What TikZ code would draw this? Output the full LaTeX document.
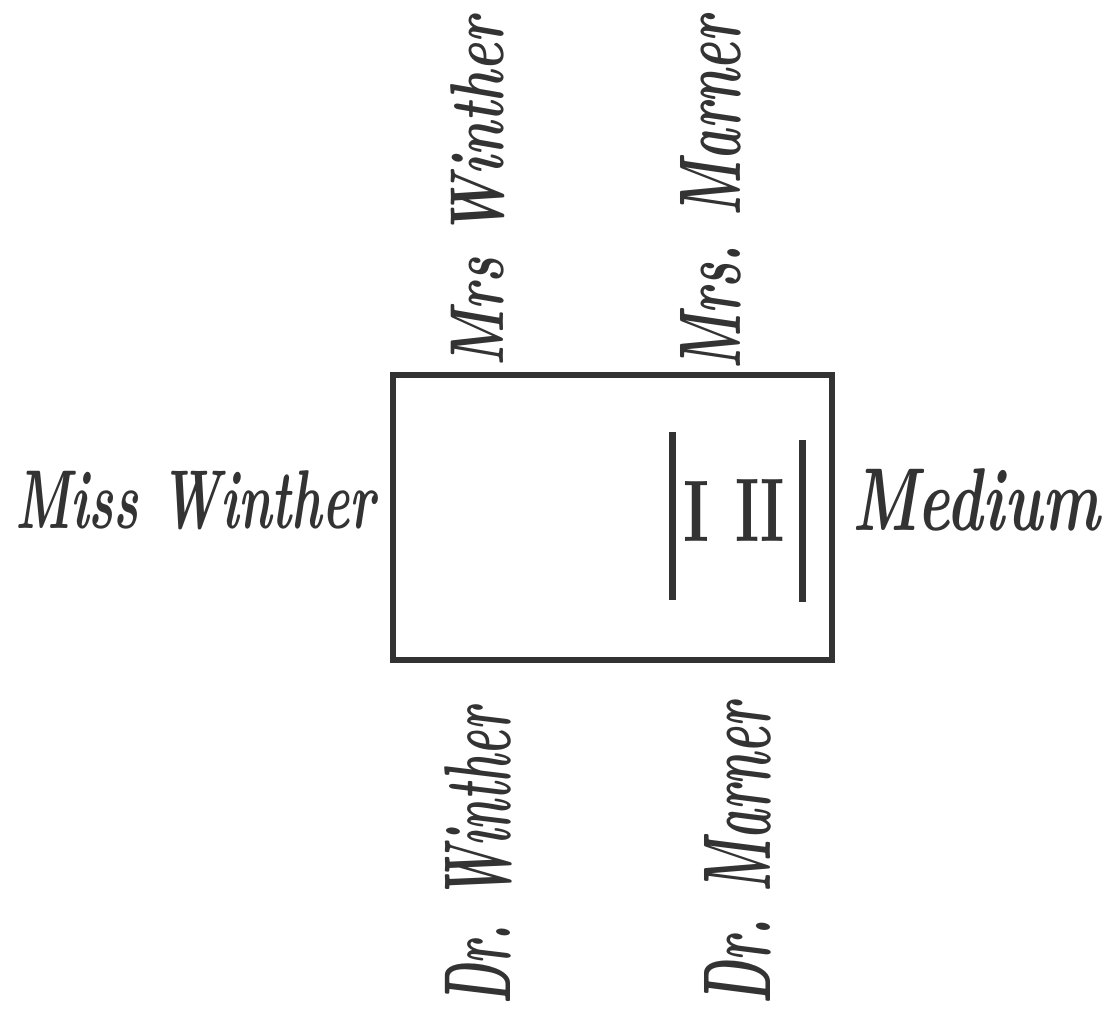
\documentclass[tikz,border=0pt]{standalone}
\newdimen\pxu \pxu=0.3mm
\definecolor{ink}{HTML}{333333}
\begin{document}
\begin{tikzpicture}[x=0.3mm,y=-0.3mm,
  lab/.style={inner sep=0pt, text=ink, font=\bfseries\itshape},
  bar/.style={draw=ink, line width=7\pxu}]
\useasboundingbox[fill=white] (0,0) rectangle (1105,1012);
% room
\node[draw=ink, line width=6\pxu, minimum width=439\pxu, minimum height=285\pxu, inner sep=0pt] (room) at (612.5,517.5) {};
% plates
\coordinate (b1t) at (672,432); \coordinate (b1b) at (672,600);
\coordinate (b2t) at (802,440); \coordinate (b2b) at (802,602);
\draw[bar] (b1t) -- (b1b);
\draw[bar] (b2t) -- (b2b);
\node[lab, font=\rmfamily\bfseries, anchor=base] (one) at (696,541) {\resizebox{26\pxu}{60\pxu}{I}};
\node[lab, font=\rmfamily\bfseries, anchor=base] (two) at (760,541) {\resizebox{50\pxu}{62\pxu}{II}};
% side labels
\node[lab, anchor=base west] (miss) at (15,528) {\resizebox{360\pxu}{58\pxu}{Miss Winther}};
\node[lab, anchor=base west] (medium) at (852,530) {\resizebox{248\pxu}{62\pxu}{Medium}};
% vertical labels
\node[lab, rotate=90, anchor=base west] (mrsw) at (503,367) {\resizebox{350\pxu}{53\pxu}{Mrs Winther}};
\node[lab, rotate=90, anchor=base west] (mrsm) at (740,370) {\resizebox{353\pxu}{60\pxu}{Mrs. Marner}};
\node[lab, rotate=90, anchor=base west] (drw) at (510,1005) {\resizebox{297\pxu}{66\pxu}{Dr. Winther}};
\node[lab, rotate=90, anchor=base west] (drm) at (770,1005) {\resizebox{302\pxu}{66\pxu}{Dr. Marner}};
\end{tikzpicture}
\end{document}
